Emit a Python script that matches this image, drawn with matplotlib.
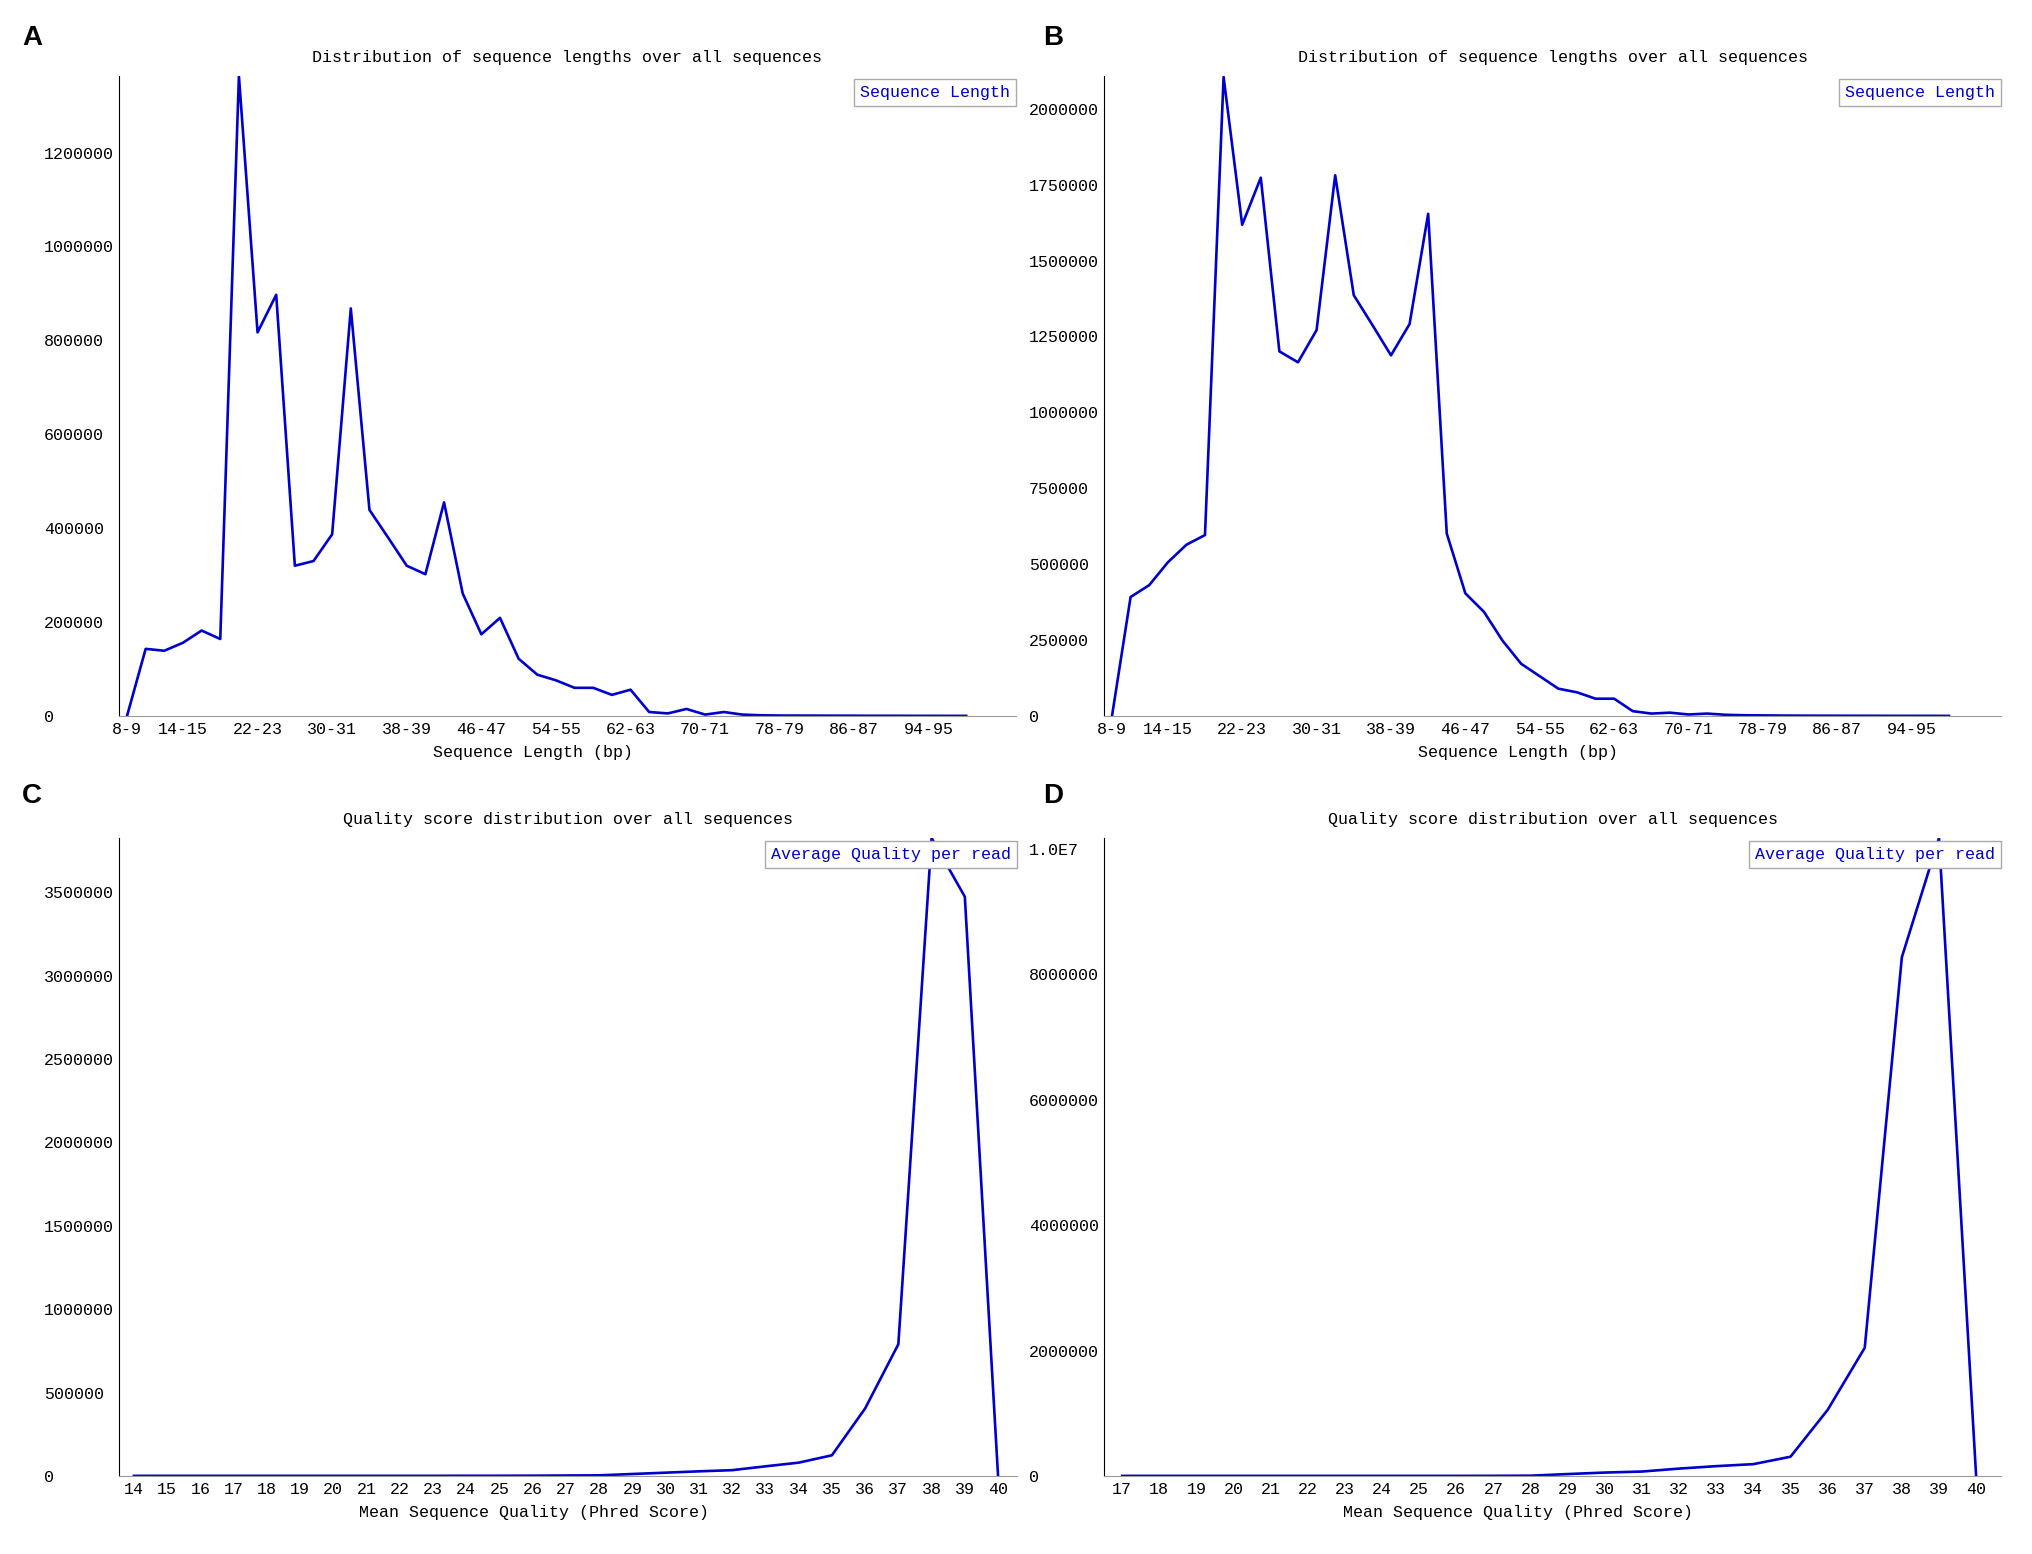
import matplotlib.pyplot as plt

# length bins (bp) shared by panels A and B
len_bins = ["8-9", "10-11", "12-13", "14-15", "16-17", "18-19", "20-21", "22-23",
            "24-25", "26-27", "28-29", "30-31", "32-33", "34-35", "36-37", "38-39",
            "40-41", "42-43", "44-45", "46-47", "48-49", "50-51", "52-53", "54-55",
            "56-57", "58-59", "60-61", "62-63", "64-65", "66-67", "68-69", "70-71",
            "72-73", "74-75", "76-77", "78-79", "80-81", "82-83", "84-85", "86-87",
            "88-89", "90-91", "92-93", "94-95", "96-97", "98-99"]
len_tick_labels = ["8-9", "14-15", "22-23", "30-31", "38-39", "46-47",
                   "54-55", "62-63", "70-71", "78-79", "86-87", "94-95"]

len_a = [0, 143000, 139000, 156000, 182000, 164000, 1363000, 817000, 897000, 320000,
         330000, 387000, 868000, 439000, 380000, 320000, 302000, 455000, 261000, 174000,
         209000, 122000, 88000, 76000, 60000, 60000, 45000, 56000, 8500, 5500,
         15000, 3000, 8500, 3000, 1500, 1000, 900, 800, 700, 600,
         500, 500, 400, 400, 300, 300]
len_b = [0, 392000, 431000, 506000, 564000, 596000, 2105000, 1618000, 1773000, 1201000,
         1165000, 1271000, 1781000, 1386000, 1288000, 1188000, 1291000, 1654000, 601000, 404000,
         343000, 248000, 172000, 131000, 90000, 78000, 57000, 57000, 16000, 8000,
         11000, 5000, 8000, 4000, 2500, 2000, 1500, 1200, 1000, 900,
         800, 700, 600, 500, 500, 400]

# mean quality panels C and D
qual_c_x = [14, 15, 16, 17, 18, 19, 20, 21, 22, 23, 24, 25, 26, 27, 28,
            29, 30, 31, 32, 33, 34, 35, 36, 37, 38, 39, 40]
qual_c = [1000, 1000, 1000, 1000, 1000, 1000, 1000, 1000, 1000, 1000, 1500, 1500, 2000, 3000, 4000,
          12000, 20000, 28000, 35000, 58000, 80000, 124000, 405000, 790000, 3825000, 3473000, 0]
qual_d_x = [17, 18, 19, 20, 21, 22, 23, 24, 25, 26, 27, 28,
            29, 30, 31, 32, 33, 34, 35, 36, 37, 38, 39, 40]
qual_d = [2000, 2000, 2000, 2000, 2000, 2000, 2000, 2000, 2000, 2000, 3000, 5000,
          31000, 55000, 71000, 118000, 157000, 189000, 307000, 1053000, 2044000, 8270000, 10170000, 0]

a_yticks = [0, 200000, 400000, 600000, 800000, 1000000, 1200000]
b_yticks = [0, 250000, 500000, 750000, 1000000, 1250000, 1500000, 1750000, 2000000]
c_yticks = [0, 500000, 1000000, 1500000, 2000000, 2500000, 3000000, 3500000]
d_yticks = [0, 2000000, 4000000, 6000000, 8000000, 10000000]
d_ylabels = ["0", "2000000", "4000000", "6000000", "8000000", "1.0E7"]

FONT = "Liberation Mono"
BLUE = "#0000cc"
W, H = 2033, 1554

fig = plt.figure(figsize=(W / 100, H / 100), dpi=100)


def make_ax(left, right, top, bottom):
    return fig.add_axes([left / W, 1 - bottom / H, (right - left) / W, (bottom - top) / H])


def style(ax, title, xlabel, yticks, ylabels, legend):
    for s in ["top", "right"]:
        ax.spines[s].set_visible(False)
    ax.spines["left"].set_color("black")
    ax.spines["bottom"].set_color("#999999")
    ax.set_yticks(yticks)
    ax.set_yticklabels(ylabels, ha="left", family=FONT, fontsize=12)
    ax.tick_params(axis="y", length=0, pad=54)
    ax.tick_params(axis="x", length=0, pad=4)
    for lab in ax.get_xticklabels():
        lab.set_family(FONT)
        lab.set_fontsize(12)
    ax.set_title(title, family=FONT, fontsize=12, pad=10)
    ax.set_xlabel(xlabel, family=FONT, fontsize=12)
    ax.xaxis.set_label_coords(0.462, -0.046)
    h = ax.get_position().height * H
    w = ax.get_position().width * W
    ax.text(1 - 6 / w, 1 - 9 / h, legend, transform=ax.transAxes, ha="right", va="top",
            family=FONT, fontsize=12, color=BLUE, zorder=5,
            bbox=dict(boxstyle="square,pad=0.38", fc="white", ec="#aaaaaa", lw=1))


# A
ax = make_ax(119, 1016, 76, 716)
ax.plot(range(len(len_bins)), len_a, color=BLUE, lw=1.9)
ax.set_xlim(-0.43, 47.67)
ax.set_ylim(0, 1363000)
ax.set_xticks([len_bins.index(t) for t in len_tick_labels])
ax.set_xticklabels(len_tick_labels)
style(ax, "Distribution of sequence lengths over all sequences", "Sequence Length (bp)",
      a_yticks, [str(v) for v in a_yticks], "Sequence Length")

# B
ax = make_ax(1104, 2001, 76, 716)
ax.plot(range(len(len_bins)), len_b, color=BLUE, lw=1.9)
ax.set_xlim(-0.43, 47.8)
ax.set_ylim(0, 2108000)
ax.set_xticks([len_bins.index(t) for t in len_tick_labels])
ax.set_xticklabels(len_tick_labels)
style(ax, "Distribution of sequence lengths over all sequences", "Sequence Length (bp)",
      b_yticks, [str(v) for v in b_yticks], "Sequence Length")

# C
ax = make_ax(119, 1017, 838, 1476)
ax.plot(qual_c_x, qual_c, color=BLUE, lw=1.9)
ax.set_xlim(13.55, 40.57)
ax.set_ylim(0, 3825000)
ax.set_xticks(qual_c_x)
ax.set_xticklabels([str(v) for v in qual_c_x])
style(ax, "Quality score distribution over all sequences", "Mean Sequence Quality (Phred Score)",
      c_yticks, [str(v) for v in c_yticks], "Average Quality per read")

# D
ax = make_ax(1104, 2001, 838, 1476)
ax.plot(qual_d_x, qual_d, color=BLUE, lw=1.9)
ax.set_xlim(16.51, 40.67)
ax.set_ylim(0, 10170000)
ax.set_xticks(qual_d_x)
ax.set_xticklabels([str(v) for v in qual_d_x])
style(ax, "Quality score distribution over all sequences", "Mean Sequence Quality (Phred Score)",
      d_yticks, d_ylabels, "Average Quality per read")

for lab, x, y in [("A", 22, 25), ("B", 1043, 25), ("C", 22, 783), ("D", 1043, 783)]:
    fig.text(x / W, 1 - y / H, lab, ha="left", va="top", family="Liberation Sans",
             fontweight="bold", fontsize=20)

fig.savefig("out.png", dpi=100, facecolor="white")
